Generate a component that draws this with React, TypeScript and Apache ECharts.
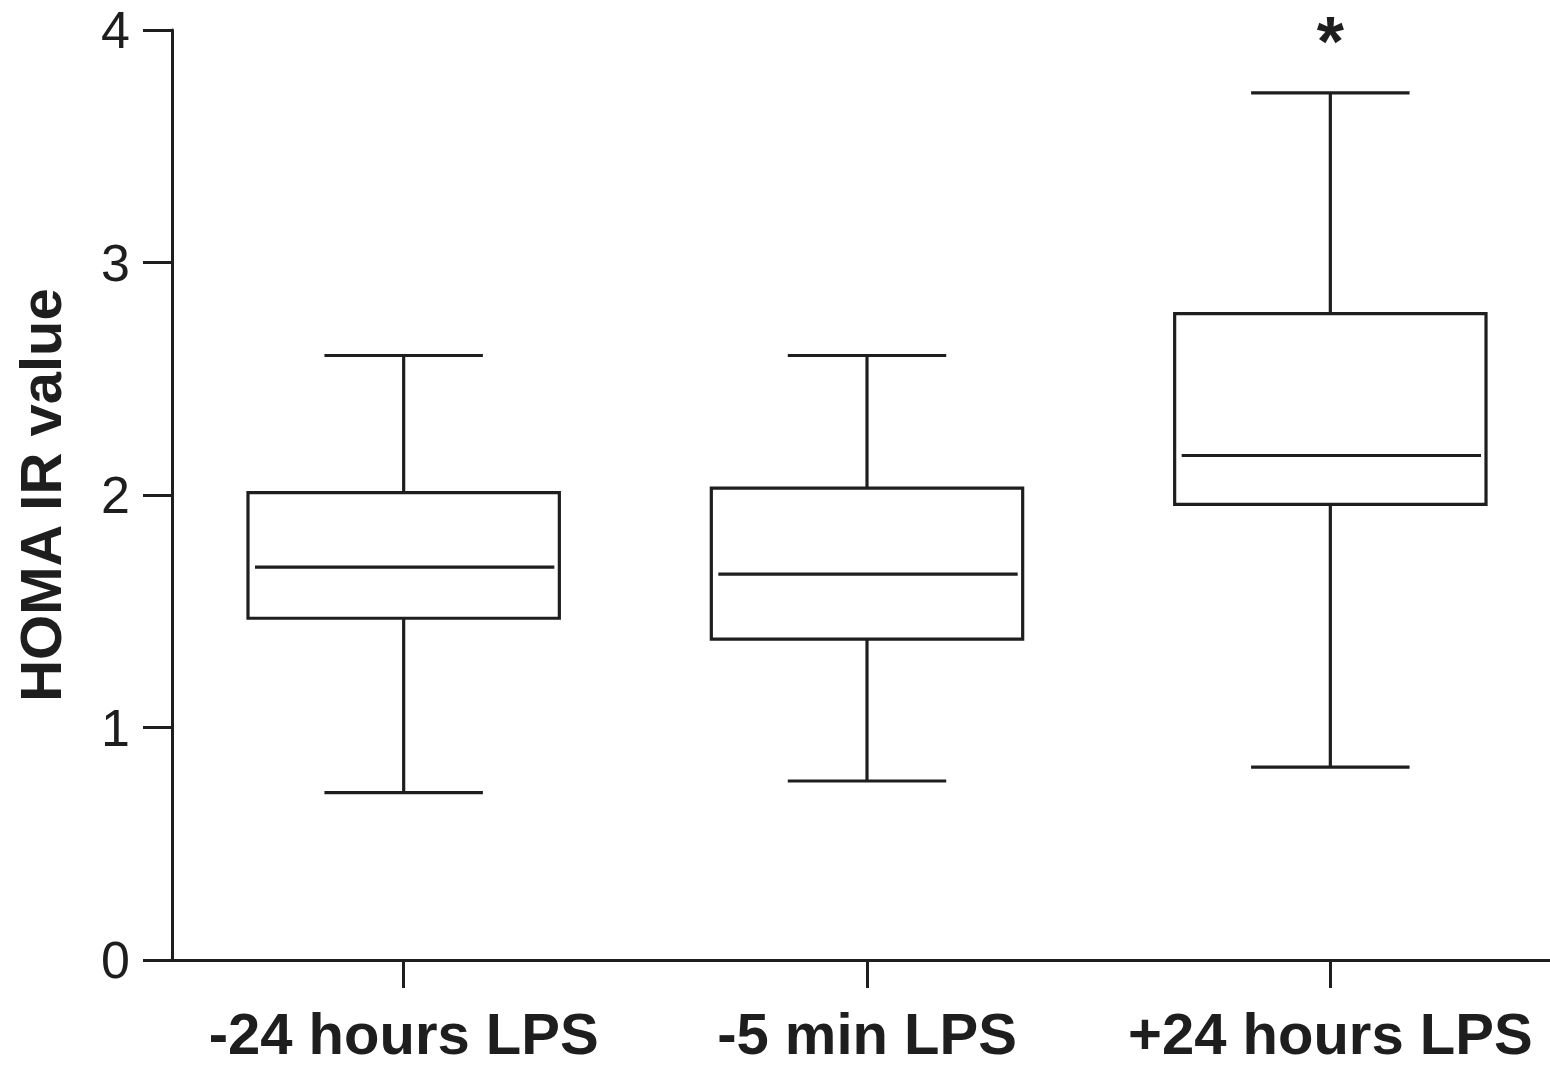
import React, { useEffect, useRef } from "react";
import * as echarts from "echarts";

const categories = ["-24 hours LPS", "-5 min LPS", "+24 hours LPS"];
const whiskerLow = [0.72, 0.77, 0.83];
const quartile1 = [1.47, 1.38, 1.96];
const medians = [1.69, 1.66, 2.17];
const quartile3 = [2.01, 2.03, 2.78];
const whiskerHigh = [2.6, 2.6, 3.73];
const significance = ["", "", "*"];
const yTicks = [0, 1, 2, 3, 4];

const INK = "#1e1e1e";
const FONT = "'Liberation Sans', Arial, Helvetica, sans-serif";

export default function App() {
  const ref = useRef<HTMLDivElement>(null);

  useEffect(() => {
    if (!ref.current) return;
    const chart = echarts.init(ref.current, null, { renderer: "svg" });
    const rows = categories.map((_, i) => [
      i,
      whiskerLow[i],
      quartile1[i],
      medians[i],
      quartile3[i],
      whiskerHigh[i],
    ]);

    const renderItem = (params: any, api: any) => {
      const idx = api.value(0);
      const band = api.size([1, 0])[0];
      const boxW = band * 0.672;
      const capW = band * 0.342;
      const pLow = api.coord([idx, api.value(1)]);
      const pQ1 = api.coord([idx, api.value(2)]);
      const pMed = api.coord([idx, api.value(3)]);
      const pQ3 = api.coord([idx, api.value(4)]);
      const pHigh = api.coord([idx, api.value(5)]);
      const cx = pMed[0];
      const lineStyle = { stroke: INK, lineWidth: 3.2, fill: null };
      const children: any[] = [
        {
          type: "line",
          shape: { x1: cx, y1: pQ3[1], x2: cx, y2: pHigh[1] },
          style: lineStyle,
        },
        {
          type: "line",
          shape: { x1: cx, y1: pLow[1], x2: cx, y2: pQ1[1] },
          style: lineStyle,
        },
        {
          type: "line",
          shape: { x1: cx - capW / 2, y1: pHigh[1], x2: cx + capW / 2, y2: pHigh[1] },
          style: lineStyle,
        },
        {
          type: "line",
          shape: { x1: cx - capW / 2, y1: pLow[1], x2: cx + capW / 2, y2: pLow[1] },
          style: lineStyle,
        },
        {
          type: "rect",
          shape: {
            x: cx - boxW / 2,
            y: pQ3[1],
            width: boxW,
            height: pQ1[1] - pQ3[1],
          },
          style: { stroke: INK, lineWidth: 3.2, fill: "none" },
        },
        {
          type: "line",
          shape: {
            x1: cx - boxW / 2 + 7,
            y1: pMed[1],
            x2: cx + boxW / 2 - 5,
            y2: pMed[1],
          },
          style: lineStyle,
        },
      ];
      const mark = significance[idx];
      if (mark) {
        children.push({
          type: "text",
          style: {
            text: mark,
            x: cx,
            y: pHigh[1] - 51,
            fill: INK,
            fontSize: 70,
            fontWeight: "bold",
            fontFamily: FONT,
            align: "center",
            verticalAlign: "middle",
          },
        });
      }
      return { type: "group", children };
    };

    chart.setOption({
      animation: false,
      backgroundColor: "#ffffff",
      grid: {
        left: 172,
        top: 30,
        width: 1390,
        height: 930,
        containLabel: false,
        outerBoundsMode: "none",
      },
      xAxis: {
        type: "category",
        data: categories,
        boundaryGap: true,
        axisLine: { show: true, lineStyle: { color: INK, width: 3 } },
        axisTick: {
          show: true,
          alignWithLabel: true,
          length: 28,
          lineStyle: { color: INK, width: 3 },
        },
        axisLabel: {
          margin: 48,
          color: INK,
          fontSize: 58,
          lineHeight: 50,
          fontWeight: "bold",
          fontFamily: FONT,
          interval: 0,
        },
        splitLine: { show: false },
      },
      yAxis: {
        type: "value",
        min: yTicks[0],
        max: yTicks[yTicks.length - 1],
        interval: 1,
        name: "HOMA IR value",
        nameLocation: "middle",
        nameRotate: 90,
        nameGap: 103,
        nameTextStyle: {
          color: INK,
          fontSize: 58,
          fontWeight: "bold",
          fontFamily: FONT,
        },
        axisLine: { show: true, lineStyle: { color: INK, width: 3 } },
        axisTick: { show: true, length: 29, lineStyle: { color: INK, width: 3 } },
        axisLabel: {
          margin: 42,
          color: INK,
          fontSize: 52,
          fontFamily: FONT,
        },
        splitLine: { show: false },
      },
      series: [
        {
          type: "custom",
          renderItem,
          data: rows,
          encode: { x: 0, y: [1, 2, 3, 4, 5] },
          clip: false,
        },
      ],
    });
    return () => chart.dispose();
  }, []);

  return (
    <div
      ref={ref}
      style={{
        position: "fixed",
        left: 0,
        top: 0,
        width: 1550,
        height: 1066,
        background: "#ffffff",
      }}
    />
  );
}
